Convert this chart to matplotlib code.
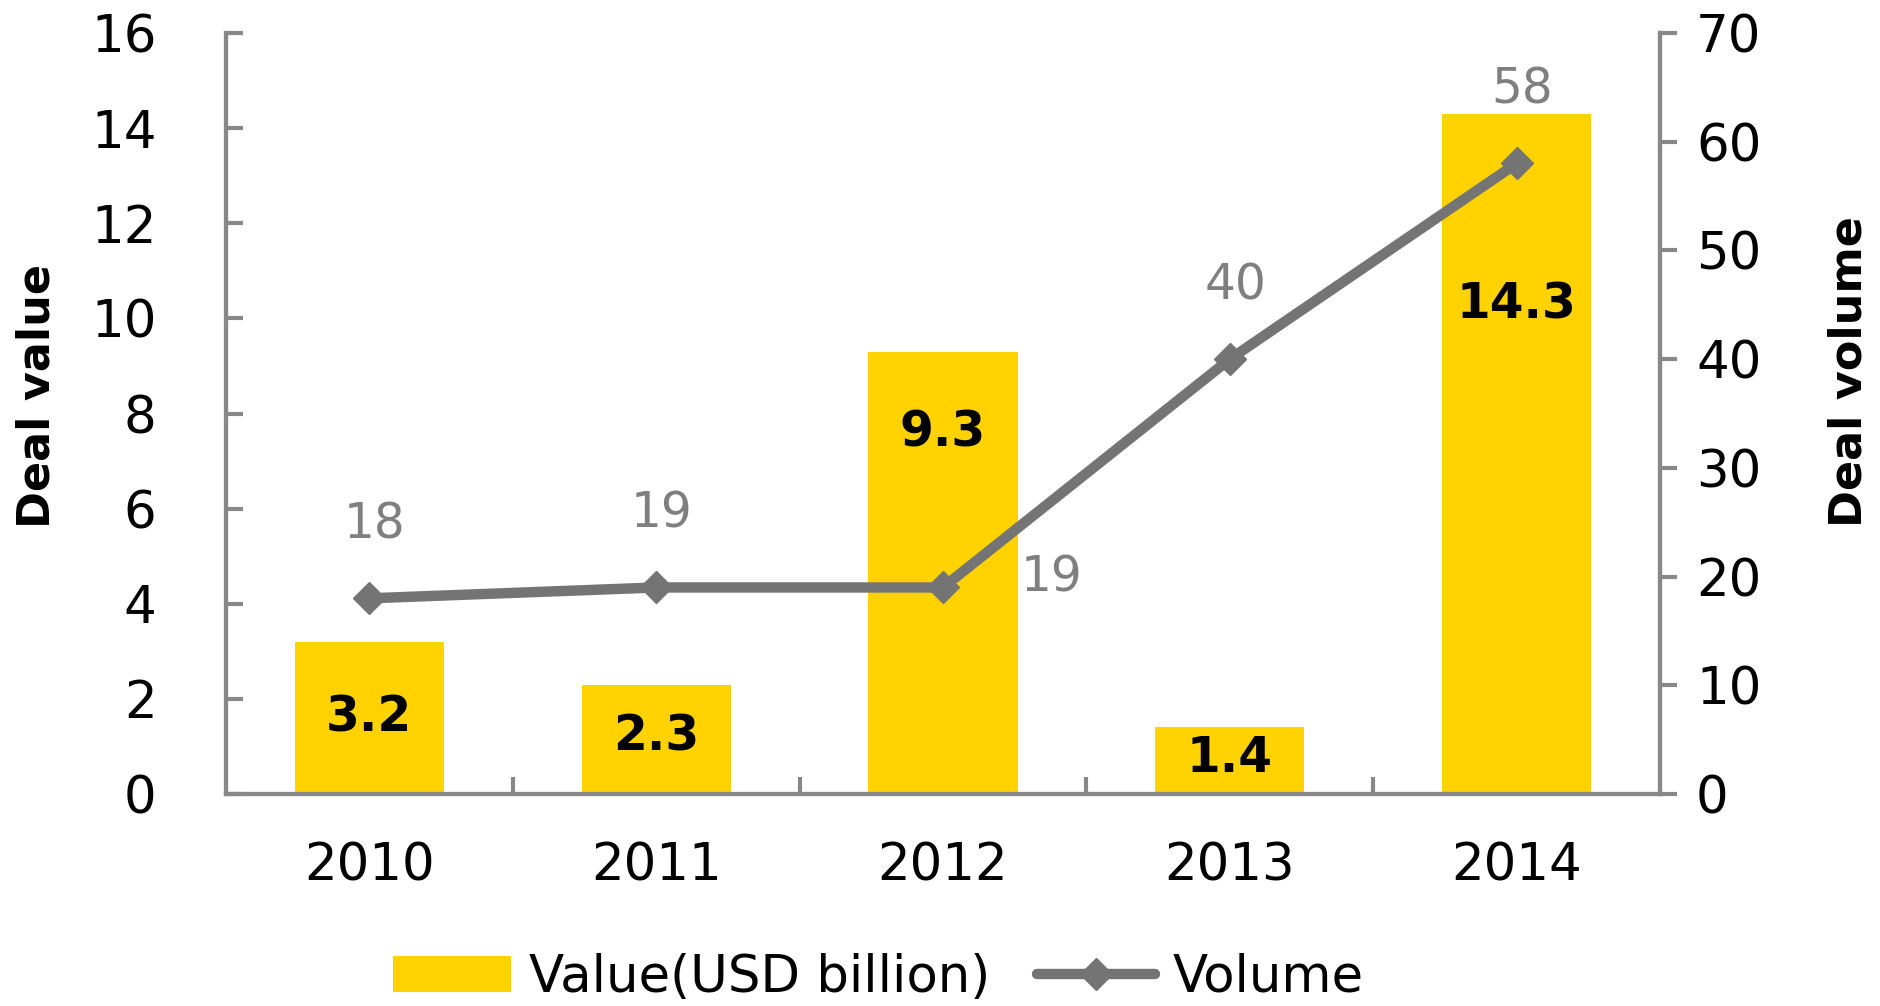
import matplotlib
matplotlib.use("Agg")
import matplotlib.pyplot as plt
from matplotlib.patches import Patch
from matplotlib.lines import Line2D

# deal data
years = ["2010", "2011", "2012", "2013", "2014"]
deal_value = [3.2, 2.3, 9.3, 1.4, 14.3]      # USD billion
deal_volume = [18, 19, 19, 40, 58]

# where the bold value labels sit inside each bar (left-axis units)
value_label_y = [1.6, 1.2, 7.6, 0.75, 10.3]

yellow = "#FFD200"
grey_line = "#747474"
grey_axis = "#888888"
grey_text = "#7F7F7F"

plt.rcParams["font.family"] = "DejaVu Sans"

fig = plt.figure(figsize=(18.81, 10.06), dpi=100)
ax = fig.add_axes([0.1201, 0.2107, 0.7624, 0.7565])
ax2 = ax.twinx()

x = list(range(len(years)))

# bars
ax.bar(x, deal_value, width=0.52, color=yellow, zorder=2)
for xi, v, ly in zip(x, deal_value, value_label_y):
    ax.text(xi, ly, f"{v:.1f}", ha="center", va="center",
            fontsize=35, fontweight="bold", color="black", zorder=3)

# volume line
ax2.plot(x, deal_volume, color=grey_line, lw=7.5, marker="D", ms=16.5,
         markerfacecolor=grey_line, markeredgecolor=grey_line, zorder=4)
for i, v in enumerate(deal_volume):
    if i == 2:
        ax2.text(x[i] + 0.38, v + 0.9, str(v), ha="center", va="center",
                 fontsize=35, color=grey_text)
    else:
        ax2.text(x[i] + 0.02, v + 6.8, str(v), ha="center", va="center",
                 fontsize=35, color=grey_text)

# axes limits and ticks
ax.set_xlim(-0.5, len(years) - 0.5)
ax.set_ylim(0, 16)
ax2.set_ylim(0, 70)
ax.set_yticks(range(0, 17, 2))
ax2.set_yticks(range(0, 71, 10))

ax.set_xticks(x)
ax.set_xticklabels(years)
ax.set_xticks([i + 0.5 for i in x[:-1]], minor=True)
ax.tick_params(axis="x", which="major", length=0, pad=34, labelsize=37)
ax.tick_params(axis="x", which="minor", direction="in", length=12,
               width=3, color=grey_axis)
ax.tick_params(axis="y", direction="in", length=12, width=3,
               color=grey_axis, pad=50, labelsize=37)
ax2.tick_params(axis="y", direction="out", length=12, width=3,
                color=grey_axis, pad=14, labelsize=37)

for a in (ax, ax2):
    a.spines["top"].set_visible(False)
    for s in ("left", "right", "bottom"):
        a.spines[s].set_color(grey_axis)
        a.spines[s].set_linewidth(3)

ax.set_ylabel("Deal value", fontsize=32, fontweight="bold")
ax2.set_ylabel("Deal volume", fontsize=32, fontweight="bold")
ax.yaxis.set_label_coords(-0.117, 0.523)
ax2.yaxis.set_label_coords(1.117, 0.555)

# legend below the chart
handles = [
    Patch(facecolor=yellow, edgecolor="none"),
    Line2D([0], [0], color=grey_line, lw=7.5, marker="D", ms=16.5,
           solid_capstyle="round"),
]
fig.legend(handles, ["Value(USD billion)", "Volume"], loc="center",
           bbox_to_anchor=(0.467, 0.028), ncol=2, frameon=False,
           fontsize=37, handlelength=2.3, handleheight=0.7,
           handletextpad=0.35, columnspacing=0.9)

fig.savefig("out.png", dpi=100)
